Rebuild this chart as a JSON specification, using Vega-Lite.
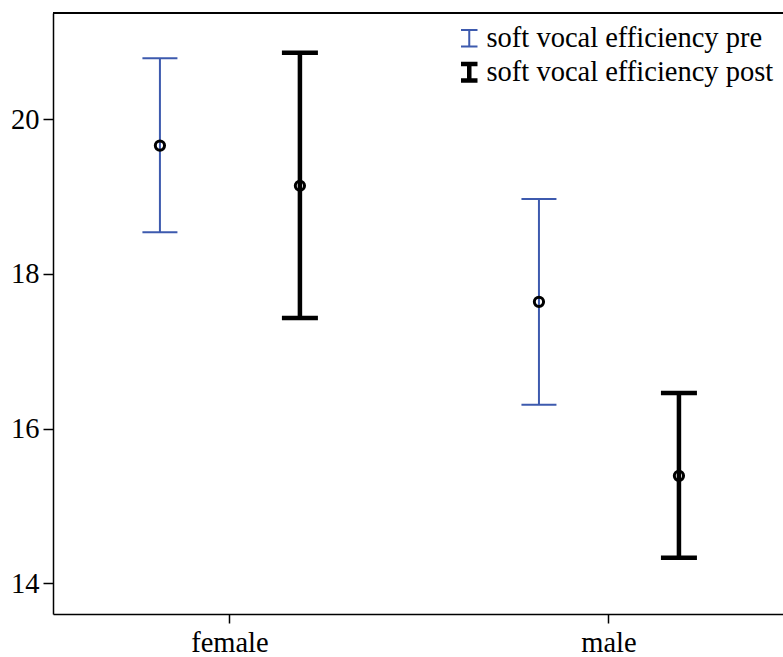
{
  "$schema": "https://vega.github.io/schema/vega-lite/v6.json",
  "autosize": {"type": "none"},
  "padding": {"left": 53, "top": 13, "right": 0, "bottom": 43},
  "width": 730,
  "height": 601,
  "background": "white",
  "config": {
    "view": {"stroke": null},
    "font": "Liberation Serif",
    "axis": {
      "labelFont": "Liberation Serif",
      "labelFontSize": 28.5,
      "labelColor": "black",
      "tickColor": "black",
      "tickWidth": 1.5,
      "domainColor": "black",
      "domainWidth": 1.5,
      "grid": false,
      "title": null
    }
  },
  "data": {
    "values": [
      {"sex": "female", "series": "soft vocal efficiency pre", "mean": 19.66, "lo": 18.54, "hi": 20.79},
      {"sex": "female", "series": "soft vocal efficiency post", "mean": 19.14, "lo": 17.43, "hi": 20.86},
      {"sex": "male", "series": "soft vocal efficiency pre", "mean": 17.64, "lo": 16.31, "hi": 18.97},
      {"sex": "male", "series": "soft vocal efficiency post", "mean": 15.39, "lo": 14.33, "hi": 16.46}
    ]
  },
  "encoding": {
    "x": {
      "field": "sex",
      "type": "nominal",
      "sort": ["female", "male"],
      "scale": {"paddingInner": 0.2, "paddingOuter": 0.063, "align": 0.53},
      "axis": {"labelAngle": 0, "tickSize": 9, "labelPadding": 5, "domain": true}
    },
    "xOffset": {
      "field": "series",
      "type": "nominal",
      "sort": ["soft vocal efficiency pre", "soft vocal efficiency post"],
      "scale": {"paddingInner": 0, "paddingOuter": 0.083}
    }
  },
  "layer": [
    {
      "mark": {"type": "rule", "color": "black", "strokeWidth": 1.5},
      "encoding": {"y": {"datum": 21.374}, "x": null, "xOffset": null}
    },
    {
      "mark": {"type": "rule"},
      "encoding": {
        "y": {
          "field": "lo",
          "type": "quantitative",
          "scale": {"domain": [13.604, 21.374], "nice": false, "zero": false},
          "axis": {"values": [14, 16, 18, 20], "format": "d", "tickSize": 10, "labelPadding": 4, "domain": true}
        },
        "y2": {"field": "hi"},
        "color": {
          "field": "series",
          "type": "nominal",
          "sort": ["soft vocal efficiency pre", "soft vocal efficiency post"],
          "scale": {
            "domain": ["soft vocal efficiency pre", "soft vocal efficiency post"],
            "range": ["#3d5aae", "black"]
          },
          "legend": {
            "title": null,
            "orient": "none",
            "legendX": 402,
            "legendY": 11,
            "padding": 0,
            "symbolType": "M-1,-1H1M0,-1V1M-1,1H1",
            "symbolSize": 272,
            "symbolStrokeWidth": 2,
            "symbolFillColor": "transparent",
            "labelFont": "Liberation Serif",
            "labelFontSize": 28.5,
            "labelColor": "black",
            "labelOffset": 3,
            "labelLimit": 400,
            "rowPadding": 2,
            "encode": {
              "symbols": {
                "update": {
                  "strokeWidth": {"signal": "datum.value === 'soft vocal efficiency post' ? 4.5 : 1.8"},
                  "fill": {"value": "transparent"}
                }
              }
            }
          }
        },
        "strokeWidth": {
          "field": "series",
          "type": "nominal",
          "scale": {
            "domain": ["soft vocal efficiency pre", "soft vocal efficiency post"],
            "range": [2, 4.5]
          },
          "legend": null
        }
      }
    },
    {
      "transform": [
        {"filter": "datum.series === 'soft vocal efficiency pre'"},
        {"fold": ["lo", "hi"], "as": ["end", "value"]}
      ],
      "mark": {"type": "tick", "color": "#3d5aae", "size": 35, "thickness": 2, "opacity": 1},
      "encoding": {"y": {"field": "value", "type": "quantitative"}}
    },
    {
      "transform": [
        {"filter": "datum.series === 'soft vocal efficiency post'"},
        {"fold": ["lo", "hi"], "as": ["end", "value"]}
      ],
      "mark": {"type": "tick", "color": "black", "size": 36, "thickness": 4.5, "opacity": 1},
      "encoding": {"y": {"field": "value", "type": "quantitative"}}
    },
    {
      "mark": {"type": "point", "shape": "circle", "filled": false, "color": "black", "strokeWidth": 3, "size": 85, "opacity": 1},
      "encoding": {"y": {"field": "mean", "type": "quantitative"}}
    }
  ]
}
